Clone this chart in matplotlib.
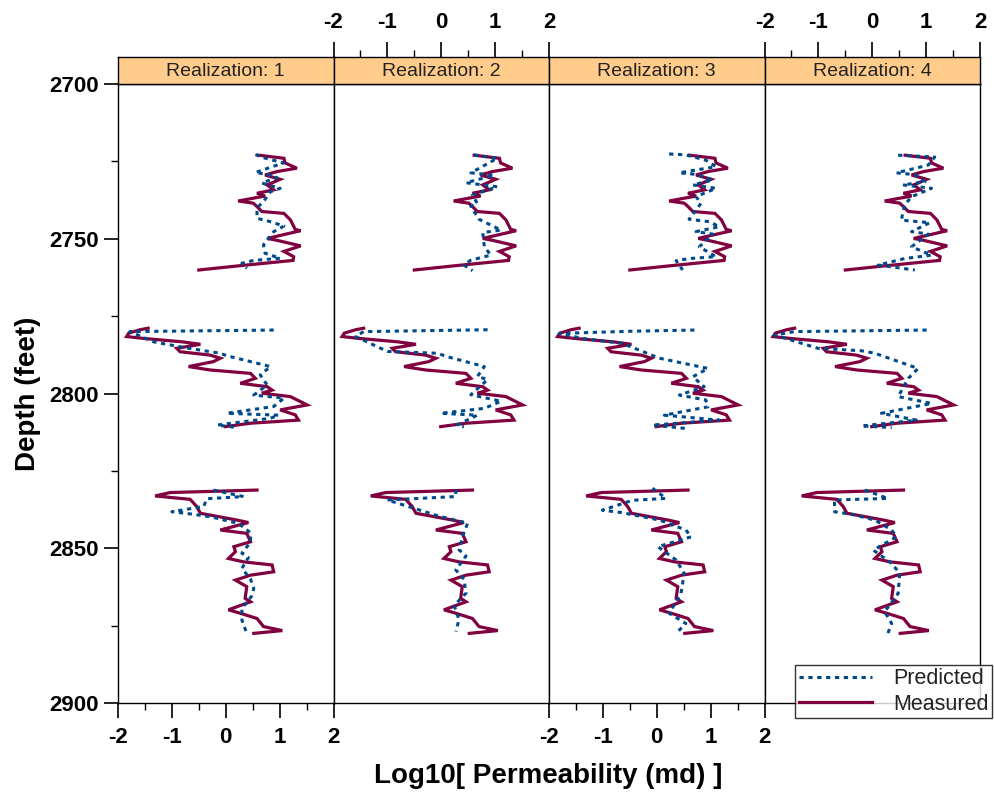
import matplotlib
matplotlib.use("Agg")
import matplotlib.pyplot as plt
from matplotlib.lines import Line2D
import numpy as np

plt.rcParams['font.family'] = ['Liberation Sans', 'DejaVu Sans']

# ---------------- data ----------------
realizations = ["Realization: 1", "Realization: 2", "Realization: 3", "Realization: 4"]
x_ticks = [-2, -1, 0, 1, 2]
y_ticks = [2700, 2750, 2800, 2850, 2900]

# Measured (same in every panel), three cored intervals
meas_depth_1 = [2723.0, 2724.0, 2725.5, 2727.2, 2728.3, 2729.4, 2730.8, 2732.6, 2734.2, 2735.3,
                2736.2, 2737.8, 2738.5, 2739.6, 2741.2, 2741.8, 2743.9, 2747.0, 2747.4, 2749.9,
                2750.5, 2752.3, 2754.1, 2755.8, 2757.0, 2758.8, 2760.1]
meas_val_1 = [0.61, 1.08, 1.10, 1.32, 0.95, 0.73, 1.01, 0.77, 0.89, 0.58,
              0.73, 0.23, 0.51, 0.58, 0.67, 1.08, 1.20, 1.29, 1.39, 0.77,
              0.95, 1.39, 1.08, 1.26, 1.25, 0.21, -0.50]
meas_depth_2 = [2778.9, 2779.4, 2780.5, 2781.6, 2782.2, 2783.3, 2784.1, 2785.4, 2786.5, 2787.6,
                2788.6, 2789.7, 2791.3, 2792.4, 2793.5, 2795.1, 2796.7, 2797.8, 2798.9, 2799.9,
                2801.0, 2803.7, 2805.3, 2806.9, 2808.6, 2809.6, 2810.7]
meas_val_2 = [-1.44, -1.59, -1.80, -1.84, -1.53, -0.81, -0.47, -0.91, -0.85, -0.29,
              -0.10, -0.23, -0.69, -0.29, 0.46, 0.55, 0.27, 0.77, 0.86, 0.67,
              1.20, 1.51, 1.01, 1.29, 1.35, 0.46, -0.01]
meas_depth_3 = [2831.2, 2832.0, 2833.1, 2834.2, 2836.5, 2838.7, 2840.9, 2841.7, 2844.1, 2845.2,
                2847.9, 2849.5, 2851.1, 2853.3, 2854.4, 2855.4, 2857.6, 2858.7, 2860.3, 2862.4,
                2866.2, 2867.3, 2869.9, 2871.0, 2872.7, 2875.3, 2876.6, 2877.5]
meas_val_3 = [0.58, -1.03, -1.31, -0.66, -0.54, -0.47, 0.21, 0.42, -0.10, 0.39,
              0.46, 0.15, 0.18, 0.05, 0.33, 0.86, 0.89, 0.46, 0.18, 0.39,
              0.36, 0.46, 0.05, 0.27, 0.58, 0.70, 1.05, 0.52]

# Predicted, realization 1
pred1_depth_1 = [2722.8, 2723.8, 2725.5, 2728.6, 2729.2, 2730.2, 2732.0, 2733.7, 2734.8, 2738.0,
                 2740.0, 2743.4, 2744.2, 2745.0, 2745.9, 2747.7, 2752.0, 2754.7, 2756.3, 2757.0,
                 2757.9, 2759.6]
pred1_val_1 = [0.55, 0.70, 1.07, 0.55, 0.77, 0.95, 0.67, 1.01, 0.83, 0.70,
               0.58, 0.58, 0.77, 0.92, 1.08, 0.89, 0.70, 0.73, 1.01, 0.52,
               0.30, 0.39]
pred1_depth_2 = [2779.5, 2780.0, 2783.3, 2785.3, 2787.0, 2787.8, 2791.3, 2794.0, 2797.3, 2800.5,
                 2801.5, 2804.2, 2806.4, 2807.0, 2808.0, 2810.2, 2811.0]
pred1_val_2 = [0.89, -1.78, -1.34, -0.72, -0.10, 0.02, 0.83, 0.64, 0.77, 0.52,
               1.08, 0.89, 0.02, 0.98, 0.83, -0.16, 0.21]
pred1_depth_3 = [2831.2, 2833.3, 2834.0, 2836.5, 2838.2, 2838.9, 2839.8, 2842.0, 2845.0, 2848.0,
                 2851.6, 2853.0, 2856.5, 2860.0, 2863.0, 2865.5, 2869.4, 2873.2, 2877.5]
pred1_val_3 = [-0.23, 0.33, -0.35, -0.41, -1.00, -0.66, -0.29, 0.24, 0.46, 0.46,
               0.30, 0.42, 0.30, 0.46, 0.52, 0.48, 0.30, 0.30, 0.39]

# Predicted, realization 2
pred2_depth_1 = [2722.9, 2724.0, 2728.7, 2729.5, 2731.9, 2733.2, 2735.9, 2738.6, 2739.5, 2743.7,
                 2747.2, 2748.0, 2752.6, 2755.3, 2756.9, 2758.5, 2760.3]
pred2_val_1 = [0.61, 1.04, 0.55, 0.98, 0.46, 1.04, 0.58, 0.67, 0.55, 0.70,
               1.11, 0.77, 0.80, 0.92, 0.55, 0.42, 0.58]
pred2_depth_2 = [2779.4, 2780.0, 2781.6, 2786.4, 2787.0, 2788.1, 2791.3, 2794.5, 2795.5, 2800.4,
                 2802.5, 2804.8, 2806.4, 2807.0, 2810.1, 2810.8]
pred2_val_2 = [0.86, -1.44, -1.59, -1.00, -0.07, 0.11, 0.80, 0.67, 0.86, 0.55,
               1.11, 0.80, -0.01, 0.67, 0.30, 0.42]
pred2_depth_3 = [2831.1, 2833.3, 2834.4, 2838.1, 2839.5, 2841.9, 2845.0, 2850.5, 2852.5, 2857.0,
                 2860.0, 2864.5, 2868.5, 2873.1, 2876.9]
pred2_val_3 = [0.27, 0.27, -1.00, -0.32, -0.07, 0.49, 0.42, 0.33, 0.46, 0.27,
               0.42, 0.46, 0.24, 0.33, 0.27]

# Predicted, realization 3
pred3_depth_1 = [2722.6, 2722.9, 2724.6, 2726.7, 2728.7, 2729.2, 2731.0, 2732.6, 2733.7, 2736.4,
                 2738.6, 2743.7, 2744.5, 2746.1, 2747.7, 2748.5, 2752.6, 2755.8, 2756.4, 2757.1,
                 2760.1]
pred3_val_1 = [0.23, 0.54, 0.91, 1.10, 0.42, 0.73, 1.04, 0.67, 1.10, 0.73,
               0.82, 0.60, 0.98, 1.16, 0.73, 1.04, 0.79, 1.10, 0.60, 0.36,
               0.48]
pred3_depth_2 = [2779.5, 2779.9, 2780.6, 2782.2, 2783.8, 2788.6, 2791.9, 2794.6, 2797.8, 2800.5,
                 2802.1, 2804.3, 2807.0, 2808.6, 2810.2, 2811.3]
pred3_val_2 = [0.70, -0.51, -1.81, -1.38, -0.64, 0.05, 0.95, 0.67, 0.88, 0.42,
               0.91, 0.95, 0.14, 1.16, -0.08, 0.54]
pred3_depth_3 = [2830.6, 2833.9, 2834.5, 2837.7, 2838.5, 2840.9, 2844.1, 2846.3, 2849.5, 2853.8,
                 2858.1, 2864.6, 2871.0, 2874.3, 2877.5]
pred3_val_3 = [-0.08, 0.17, -0.45, -1.01, -0.64, 0.05, 0.54, 0.64, 0.02, 0.36,
               0.51, 0.45, 0.23, 0.54, 0.36]

# Predicted, realization 4
pred4_depth_1 = [2723.0, 2723.6, 2726.2, 2728.7, 2729.3, 2731.6, 2732.6, 2733.7, 2736.4, 2739.1,
                 2744.0, 2744.8, 2747.7, 2748.5, 2752.6, 2755.3, 2756.4, 2758.5, 2760.1]
pred4_val_1 = [0.48, 1.16, 1.04, 0.45, 0.79, 0.98, 0.57, 1.10, 0.73, 0.60,
               0.54, 1.07, 0.73, 1.04, 0.73, 1.10, 0.60, 0.11, 0.79]
pred4_depth_2 = [2779.5, 2780.0, 2781.1, 2785.4, 2786.2, 2787.0, 2791.9, 2795.1, 2801.0, 2803.2,
                 2806.4, 2808.6, 2810.5, 2811.0]
pred4_val_2 = [1.01, -1.44, -1.81, -1.01, -0.20, 0.05, 0.85, 0.67, 0.48, 1.10,
               0.17, 0.82, -0.20, 0.36]
pred4_depth_3 = [2831.2, 2833.9, 2834.4, 2838.2, 2839.0, 2840.9, 2844.1, 2846.3, 2850.6, 2854.9,
                 2858.1, 2864.6, 2870.5, 2874.3, 2877.5]
pred4_val_3 = [-0.14, 0.29, -0.70, -0.70, -0.39, 0.05, 0.36, 0.45, 0.02, 0.36,
               0.51, 0.48, 0.23, 0.36, 0.29]

meas_segments = [(meas_depth_1, meas_val_1), (meas_depth_2, meas_val_2), (meas_depth_3, meas_val_3)]
pred_segments = [
    [(pred1_depth_1, pred1_val_1), (pred1_depth_2, pred1_val_2), (pred1_depth_3, pred1_val_3)],
    [(pred2_depth_1, pred2_val_1), (pred2_depth_2, pred2_val_2), (pred2_depth_3, pred2_val_3)],
    [(pred3_depth_1, pred3_val_1), (pred3_depth_2, pred3_val_2), (pred3_depth_3, pred3_val_3)],
    [(pred4_depth_1, pred4_val_1), (pred4_depth_2, pred4_val_2), (pred4_depth_3, pred4_val_3)],
]

# ---------------- style ----------------
MEAS_COLOR = "#800040"
PRED_COLOR = "#004A8A"
STRIP_COLOR = "#FFCC8C"

W, H = 994, 794
fig = plt.figure(figsize=(W / 100, H / 100), dpi=100)

left_px, right_px = 118, 980
top_px, strip_bot_px, bot_px = 57, 84, 703
pw = (right_px - left_px) / 4

def fx(px):
    return px / W

def fy(py):
    return 1 - py / H

tick_font = dict(fontsize=16, fontweight='bold')

for i in range(4):
    x0 = left_px + i * pw
    ax = fig.add_axes([fx(x0), fy(bot_px), fx(pw), (bot_px - strip_bot_px) / H])
    sax = fig.add_axes([fx(x0), fy(strip_bot_px), fx(pw), (strip_bot_px - top_px) / H])

    for d, v in meas_segments:
        ax.plot(v, d, color=MEAS_COLOR, lw=2.3, solid_joinstyle='miter', zorder=2)
    for d, v in pred_segments[i]:
        ax.plot(v, d, color=PRED_COLOR, lw=2.2, dashes=(1.4, 1.5), zorder=3)

    ax.set_xlim(-2, 2)
    ax.set_ylim(2900, 2700)
    for sp in ax.spines.values():
        sp.set_linewidth(1.0)
        sp.set_color('black')

    # y axis
    ax.set_yticks(y_ticks)
    ax.set_yticks([2725, 2775, 2825, 2875], minor=True)
    if i == 0:
        ax.tick_params(axis='y', which='major', direction='out', length=10, width=1.2, left=True, right=False)
        ax.tick_params(axis='y', which='minor', direction='out', length=5, width=1.0, left=True, right=False)
        ax.set_yticklabels([str(t) for t in y_ticks], **tick_font)
        ax.set_ylabel("Depth (feet)", fontsize=20, fontweight='bold', labelpad=6)
    else:
        ax.tick_params(axis='y', which='both', left=False, right=False, labelleft=False)

    # x axis
    ax.set_xticks(x_ticks)
    ax.set_xticks([-1.5, -0.5, 0.5, 1.5], minor=True)
    if i % 2 == 0:
        ax.tick_params(axis='x', which='major', direction='out', length=11, width=1.2, bottom=True, top=False, pad=6)
        ax.tick_params(axis='x', which='minor', direction='out', length=5, width=1.0, bottom=True, top=False)
        ax.set_xticklabels([str(t) for t in x_ticks], **tick_font)
    else:
        ax.tick_params(axis='x', which='both', bottom=False, top=False, labelbottom=False)

    # strip
    sax.set_facecolor(STRIP_COLOR)
    sax.set_xlim(-2, 2)
    sax.set_ylim(0, 1)
    sax.set_yticks([])
    for sp in sax.spines.values():
        sp.set_linewidth(1.0)
        sp.set_color('black')
    sax.text(0.5, 0.47, realizations[i], transform=sax.transAxes, ha='center', va='center',
             fontsize=14, color='#222222')
    sax.set_xticks(x_ticks)
    sax.set_xticks([-1.5, -0.5, 0.5, 1.5], minor=True)
    if i % 2 == 1:
        sax.xaxis.set_ticks_position('top')
        sax.tick_params(axis='x', which='major', direction='out', length=11, width=1.2, top=True,
                        bottom=False, labeltop=True, labelbottom=False, pad=6)
        sax.tick_params(axis='x', which='minor', direction='out', length=5, width=1.0, top=True, bottom=False)
        sax.set_xticklabels([str(t) for t in x_ticks], **tick_font)
    else:
        sax.tick_params(axis='x', which='both', bottom=False, top=False, labelbottom=False, labeltop=False)

fig.text(fx(548), fy(776), "Log10[ Permeability (md) ]", ha='center', va='center',
         fontsize=20, fontweight='bold')

handles = [Line2D([], [], color=PRED_COLOR, lw=2.2, dashes=(1.4, 1.5)),
           Line2D([], [], color=MEAS_COLOR, lw=2.3)]
leg = fig.legend(handles, ["Predicted", "Measured"], loc='upper right',
                 bbox_to_anchor=(fx(992), fy(665)), frameon=True, fancybox=False,
                 fontsize=15.5, handlelength=3.4, borderpad=0.15, labelspacing=0.2,
                 handletextpad=1.0, borderaxespad=0, markerfirst=True)
leg.get_frame().set_edgecolor('black')
leg.get_frame().set_linewidth(1.0)
for t in leg.get_texts():
    t.set_color('#222222')

fig.savefig("out.png", dpi=100)
